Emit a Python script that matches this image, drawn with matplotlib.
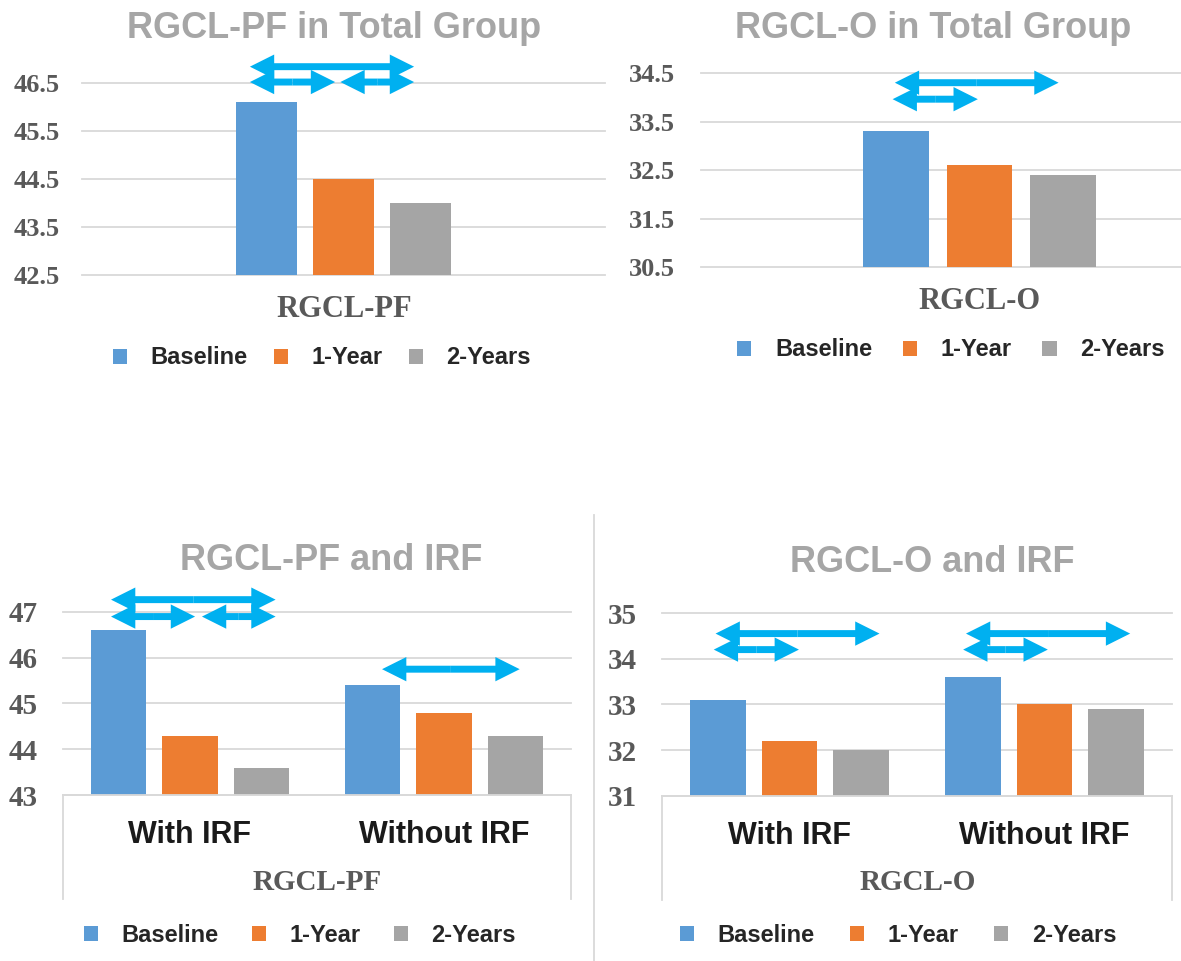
import numpy as np
import matplotlib
matplotlib.use('Agg')
import matplotlib.pyplot as plt
from matplotlib.lines import Line2D

W, H = 1181, 961

series = ['Baseline', '1-Year', '2-Years']
colors = ['#5b9bd5', '#ed7d31', '#a5a5a5']

# top row: one category each
pf_total = [46.1, 44.5, 44.0]
o_total = [33.3, 32.6, 32.4]

# bottom row: With IRF / Without IRF
irf_groups = ['With IRF', 'Without IRF']
pf_irf_baseline = [46.6, 45.4]
pf_irf_1y = [44.3, 44.8]
pf_irf_2y = [43.6, 44.3]
o_irf_baseline = [33.1, 33.6]
o_irf_1y = [32.2, 33.0]
o_irf_2y = [32.0, 32.9]

pf_ticks = [42.5, 43.5, 44.5, 45.5, 46.5]
o_ticks = [30.5, 31.5, 32.5, 33.5, 34.5]
pf_irf_ticks = [43, 44, 45, 46, 47]
o_irf_ticks = [31, 32, 33, 34, 35]

SANS = 'Liberation Sans'
SERIF = 'Liberation Serif'
TITLE_C = '#a6a6a6'
TICK_C = '#595959'
GRID_C = '#d9d9d9'
ARROW_C = '#00b0f0'

fig = plt.figure(figsize=(W / 100, H / 100), dpi=100)


def rect(x0, y0, x1, y1):
    # pixel box (top-left origin) -> figure fraction
    return [x0 / W, 1 - y1 / H, (x1 - x0) / W, (y1 - y0) / H]


def ftext(x, y, s, **kw):
    fig.text(x / W, 1 - y / H, s, ha='center', va='center', **kw)


def panel(box, cats, vals, offs, width, ylim, ticks, fmt):
    ax = fig.add_axes(rect(*box))
    x = np.arange(len(cats))
    handles = []
    for v, o, c, name in zip(vals, offs, colors, series):
        handles.append(ax.bar(x + o, v, width, color=c, label=name, zorder=2))
    ax.set_xlim(-0.5, len(cats) - 0.5)
    ax.set_ylim(*ylim)
    ax.set_yticks(ticks)
    ax.set_yticklabels([fmt.format(t) for t in ticks], family=SERIF,
                       weight='bold', color=TICK_C)
    ax.yaxis.grid(True, color=GRID_C, lw=1.3)
    for gl in ax.get_ygridlines():
        gl.set_clip_on(False)
    ax.set_axisbelow(True)
    for s in ax.spines.values():
        s.set_visible(False)
    ax.tick_params(length=0)
    return ax, handles


def arrow(ax, x0, x1, y):
    # double-headed block arrow: two filled halves from the middle outwards
    mid = (x0 + x1) / 2
    style = 'simple,head_length=1.75,head_width=1.75,tail_width=0.5'
    for end in (x0, x1):
        ax.annotate('', xy=(end, y), xytext=(mid, y), annotation_clip=False,
                    arrowprops=dict(arrowstyle=style, mutation_scale=10, lw=0,
                                    color=ARROW_C, shrinkA=0, shrinkB=0))


def legend(handles, cx, cy, colsp=1.1):
    fig.legend(handles=handles, labels=series, loc='center',
               bbox_to_anchor=(cx / W, 1 - cy / H), ncol=3, frameon=False,
               prop={'family': SANS, 'weight': 'bold', 'size': 17},
               labelcolor='#262626', handlelength=0.6, handleheight=0.6,
               handletextpad=1.0, columnspacing=colsp)


# ---- top-left
ax1, h1 = panel((82, 83, 605, 275), ['RGCL-PF'], [[v] for v in pf_total],
                [-0.147, 0, 0.147], 0.117, (42.5, 46.5), pf_ticks, '{:.1f}')
ax1.set_xticks([])
ax1.tick_params(axis='y', labelsize=19, pad=16)
arrow(ax1, -0.179, 0.135, 46.84)
arrow(ax1, -0.179, -0.016, 46.52)
arrow(ax1, -0.006, 0.135, 46.52)
ftext(334, 28, 'RGCL-PF in Total Group', family=SANS, weight='bold', size=26, color=TITLE_C)
ftext(344, 310, 'RGCL-PF', family=SERIF, weight='bold', size=22, color=TICK_C)
legend(h1, 322, 358)

# ---- top-right
ax2, h2 = panel((701, 73, 1258, 267), ['RGCL-O'], [[v] for v in o_total],
                [-0.150, 0, 0.150], 0.118, (30.5, 34.5), o_ticks, '{:.1f}')
ax2.set_xticks([])
ax2.tick_params(axis='y', labelsize=19, pad=19)
arrow(ax2, -0.152, 0.142, 34.30)
arrow(ax2, -0.156, -0.003, 33.96)
ftext(933, 28, 'RGCL-O in Total Group', family=SANS, weight='bold', size=26, color=TITLE_C)
ftext(980, 301, 'RGCL-O', family=SERIF, weight='bold', size=22, color=TICK_C)
legend(h2, 951, 350, 1.3)


def box_axis(ax, drop_px):
    ax.spines['bottom'].set_visible(True)
    ax.spines['bottom'].set_color(GRID_C)
    ax.spines['bottom'].set_linewidth(1.3)
    hpx = ax.get_position().height * H
    for xa in (0, 1):
        ax.plot([xa, xa], [0, -drop_px / hpx], transform=ax.transAxes,
                color=GRID_C, lw=1.3, clip_on=False)


# ---- bottom-left
ax3, h3 = panel((63, 612, 571, 795), irf_groups,
                [pf_irf_baseline, pf_irf_1y, pf_irf_2y],
                [-0.28, 0, 0.28], 0.217, (43, 47), pf_irf_ticks, '{:d}')
ax3.set_xticks(range(len(irf_groups)))
ax3.set_xticklabels(irf_groups, family=SANS, weight='bold', size=22, color='#1a1a1a')
ax3.tick_params(axis='y', labelsize=21, pad=18)
ax3.tick_params(axis='x', pad=18)
box_axis(ax3, 104)
arrow(ax3, -0.311, 0.337, 47.27)
arrow(ax3, -0.311, 0.020, 46.90)
arrow(ax3, 0.047, 0.337, 46.90)
arrow(ax3, 0.756, 1.298, 45.75)
ftext(331, 560, 'RGCL-PF and IRF', family=SANS, weight='bold', size=26, color=TITLE_C)
ftext(317, 883, 'RGCL-PF', family=SERIF, weight='bold', size=21, color=TICK_C)
legend(h3, 300, 935, 1.4)

# ---- bottom-right
ax4, h4 = panel((662, 613, 1172, 796), irf_groups,
                [o_irf_baseline, o_irf_1y, o_irf_2y],
                [-0.28, 0, 0.28], 0.217, (31, 35), o_irf_ticks, '{:d}')
ax4.set_xticks(range(len(irf_groups)))
ax4.set_xticklabels(irf_groups, family=SANS, weight='bold', size=22, color='#1a1a1a')
ax4.tick_params(axis='y', labelsize=21, pad=18)
ax4.tick_params(axis='x', pad=18)
box_axis(ax4, 104)
arrow(ax4, -0.290, 0.353, 34.55)
arrow(ax4, -0.297, 0.037, 34.20)
arrow(ax4, 0.692, 1.336, 34.55)
arrow(ax4, 0.681, 1.013, 34.20)
ftext(932, 563, 'RGCL-O and IRF', family=SANS, weight='bold', size=26, color=TITLE_C)
ftext(918, 883, 'RGCL-O', family=SERIF, weight='bold', size=21, color=TICK_C)
legend(h4, 898, 935, 1.5)

# divider between the two bottom charts
fig.add_artist(Line2D([594 / W, 594 / W], [1 - 515 / H, 0], color=GRID_C, lw=1.3))

fig.savefig('out.png', dpi=100)
